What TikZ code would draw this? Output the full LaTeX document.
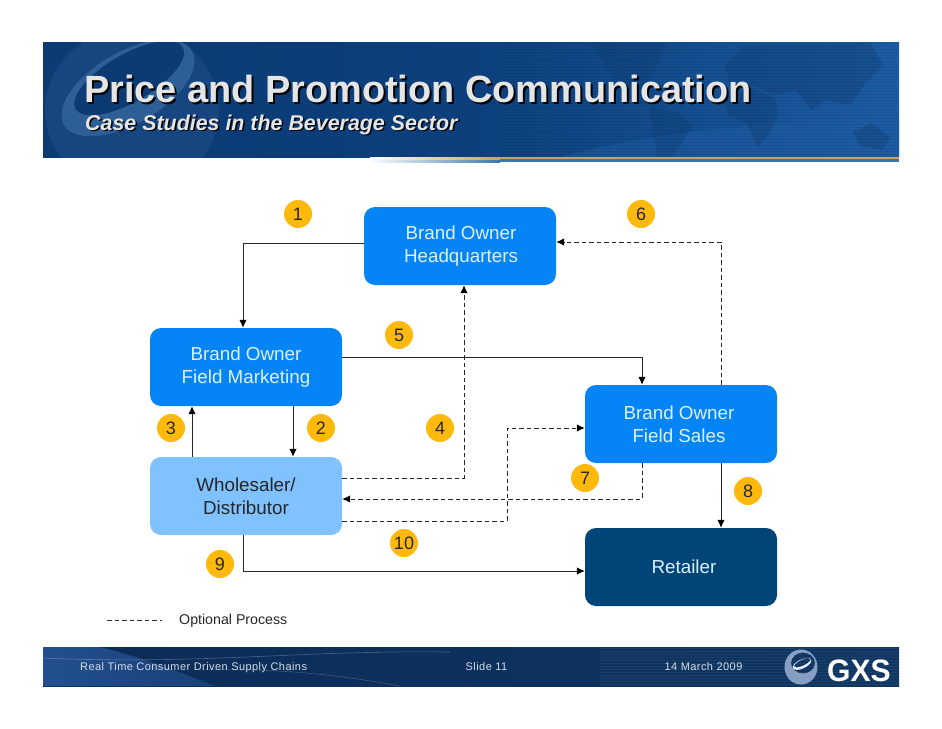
\documentclass[tikz,border=0pt]{standalone}
\usepackage{fontspec}
\setmainfont{Liberation Sans}
\newfontfamily\spacedfont[LetterSpace=4]{Liberation Sans}
\usetikzlibrary{arrows.meta,calc}
\definecolor{bright}{HTML}{0585F5}
\definecolor{pale}{HTML}{80C2FF}
\definecolor{deep}{HTML}{004578}
\definecolor{gold}{HTML}{FFB80C}
\definecolor{boxtext}{HTML}{DDF0FF}
\definecolor{bannerL}{HTML}{0C3A72}
\definecolor{bannerM}{HTML}{0C3F7C}
\definecolor{bannerR}{HTML}{1D5CA3}
\definecolor{mapdark}{HTML}{0E3B72}
\definecolor{ringc}{HTML}{2D5F96}
\definecolor{ringb}{HTML}{174580}
\definecolor{footL}{HTML}{234F8F}
\definecolor{footM}{HTML}{0B2C57}
\definecolor{footR}{HTML}{0F3662}
\definecolor{rulegold}{HTML}{C8A265}
\definecolor{ruleblue}{HTML}{3A78AC}
\tikzset{
  boxnode/.style={rounded corners=11pt,minimum width=192pt,minimum height=78pt,inner sep=0pt,align=center,font=\fontsize{18.8}{23}\selectfont},
  num/.style={circle,fill=gold,minimum size=28pt,inner sep=0pt,font=\fontsize{18}{18}\selectfont,text=black!85},
  solidarrow/.style={draw=black!85,line width=1pt,-{Latex[length=8pt,width=7.5pt,black]}},
  dasharrow/.style={draw=black!85,line width=1pt,dash pattern=on 4.6pt off 2.9pt,-{Latex[length=8pt,width=7.5pt,black]}},
  titletext/.style={anchor=base west,inner sep=0pt,font=\fontsize{37.9}{40}\selectfont\bfseries},
  subtext/.style={anchor=base west,inner sep=0pt,font=\fontsize{21.4}{23}\selectfont\bfseries\itshape},
  foottext/.style={anchor=base,inner sep=0pt,text=white!80!footL,font=\fontsize{11}{12}\selectfont\spacedfont},
  mapblob/.style={fill=mapdark,fill opacity=.35,draw=none}
}
\begin{document}
\begin{tikzpicture}[x=1pt,y=-1pt]
\useasboundingbox (0,0) rectangle (942,728);
% banner
\shade[left color=bannerL,right color=bannerR,middle color=bannerM] (43,42) rectangle (899,157);
\begin{scope}
\clip (43,42) rectangle (899,157);
\fill[bannerR,opacity=.55] (560,157) .. controls (680,125) and (800,122) .. (899,118) -- (899,157) -- cycle;
\fill[mapblob] (590,43) -- (667,43) -- (655,70) -- (640,92) -- (650,107) -- (630,100) -- (612,75) -- cycle;
\fill[mapblob] (650,107) -- (676,112) -- (693,125) -- (680,145) -- (668,160) -- (658,160) -- (652,130) -- cycle;
\fill[mapblob] (725,100) -- (750,88) -- (775,98) -- (778,115) -- (768,135) -- (757,148) -- (748,125) -- (728,115) -- cycle;
\fill[mapblob] (730,85) -- (725,65) -- (745,45) -- (870,43) -- (883,65) -- (860,90) -- (850,105) -- (825,100) -- (812,110) -- (795,90) -- (775,95) -- (750,85) -- cycle;
\fill[mapblob] (852,132) -- (872,123) -- (890,138) -- (882,150) -- (860,146) -- cycle;
\fill[ringb] (132,110) ellipse (87 and 82);
\fill[bannerL,rotate around={30:(128,88)}] (128,88) ellipse (74 and 36);
\fill[ringc,even odd rule,rotate around={30:(128,88)}] (128,88) ellipse (74 and 36) (134,80) ellipse (62 and 24);
\foreach \yy in {43,46,...,157}{\draw[black,opacity=.07,line width=.8pt] (500,\yy) -- (899,\yy);}
\end{scope}
% gold rule
\shade[left color=white,right color=ruleblue] (370,159) rectangle (500,162);
\fill[ruleblue] (500,159) rectangle (899,162);
\shade[left color=white,right color=rulegold] (370,157) rectangle (500,159);
\fill[rulegold] (500,157) rectangle (899,159);
% title
\node[titletext,text=black] (titleshadow) at (86,104) {Price and Promotion Communication};
\node[titletext,text=white!90!black] (title) at (84,102) {Price and Promotion Communication};
\node[subtext,text=black] (subshadow) at (86.5,131.5) {Case Studies in the Beverage Sector};
\node[subtext,text=white!90!black] (subtitle) at (85,130) {Case Studies in the Beverage Sector};
% boxes
\node[boxnode,fill=bright,text=boxtext] (hq) at (460,246) {\hspace*{2pt}Brand Owner\\\hspace*{2pt}Headquarters};
\node[boxnode,fill=bright,text=boxtext] (fm) at (246,367) {Brand Owner\\Field Marketing};
\node[boxnode,fill=bright,text=boxtext] (fs) at (681,424) {\hspace*{-4pt}Brand Owner\\\hspace*{-4pt}Field Sales};
\node[boxnode,fill=pale,text=black!85] (ws) at (246,496) {Wholesaler/\\Distributor};
\node[boxnode,fill=deep,text=boxtext] (rt) at (681,567) {\hspace*{6pt}Retailer};
% connectors
\draw[solidarrow] ([yshift=3pt]hq.west) -| ([xshift=-3pt]fm.north);
\draw[solidarrow] ([yshift=10pt]fm.east) -| ([xshift=-39pt]fs.north);
\draw[solidarrow] ([xshift=-54pt]ws.north) -- ([xshift=-54pt]fm.south);
\draw[solidarrow] ([xshift=47pt]fm.south) -- ([xshift=47pt]ws.north);
\draw[solidarrow] ([xshift=40pt]fs.south) -- ([xshift=40pt]rt.north);
\draw[solidarrow] ([xshift=-3pt]ws.south) |- ([yshift=-4pt]rt.west);
\draw[dasharrow] ([xshift=40pt]fs.north) |- ([yshift=4pt]hq.east);
\draw[dasharrow] ([yshift=18pt]ws.east) -| ([xshift=4pt]hq.south);
\coordinate (bend10) at (507,521);
\coordinate (bend10b) at (507,428);
\draw[dasharrow] ([yshift=-25pt]ws.east) -- (bend10) -- (bend10b) -- ([yshift=-4pt]fs.west);
\draw[dasharrow] ([xshift=-39pt]fs.south) |- ([yshift=-3pt]ws.east);
% numbers
\node[num] (n1) at (298,214) {1};
\node[num] (n6) at (641,214) {6};
\node[num] (n5) at (399,335) {5};
\node[num] (n3) at (171,428) {3};
\node[num] (n2) at (321,428) {2};
\node[num] (n4) at (440,428) {4};
\node[num] (n7) at (585,478) {7};
\node[num] (n8) at (748,491) {8};
\node[num] (n10) at (404,543) {10};
\node[num] (n9) at (220,564) {9};
% legend
\coordinate (lega) at (107,620);
\coordinate (legb) at (162,620);
\draw[black!80,line width=1pt,dash pattern=on 4.6pt off 2.9pt] (lega) -- (legb);
\node[anchor=base west,inner sep=0pt,font=\fontsize{14.2}{15}\selectfont,text=black!85] (legend) at (179,624) {Optional Process};
% footer
\shade[left color=footM,right color=footR] (43,647) rectangle (899,686);
\begin{scope}
\clip (43,647) rectangle (899,686);
\shade[left color=footL,right color=footL!60!footM] (43,647) -- (100,647) .. controls (130,655) and (150,660) .. (215,686) -- (43,686) -- cycle;
\draw[white,opacity=.25,line width=.6pt] (43,658) .. controls (200,665) and (300,650) .. (450,652);
\draw[white,opacity=.2,line width=.6pt] (200,670) .. controls (280,668) and (340,675) .. (400,686);
\foreach \yy in {648,651,...,686}{\draw[white,opacity=.06,line width=.8pt] (600,\yy) -- (899,\yy);}
\end{scope}
\node[foottext,anchor=base west] (ft1) at (80,670) {Real Time Consumer Driven Supply Chains};
\node[foottext] (ft2) at (486.5,670) {Slide 11};
\node[foottext] (ft3) at (703.5,670) {14 March 2009};
% logo
\fill[white!45!footL,even odd rule] (801,667) ellipse (16.5 and 17.5) (803,663) ellipse (12 and 10.5);
\fill[white!90!footL,rotate around={25:(802,664)},even odd rule] (802,664) ellipse (10 and 4.5) (803,663) ellipse (9 and 3);
\node[inner sep=0pt,anchor=base west,text=white,font=\fontsize{31}{31}\selectfont\bfseries,xscale=.97] (gxs) at (827,681) {GXS};
\end{tikzpicture}
\end{document}
